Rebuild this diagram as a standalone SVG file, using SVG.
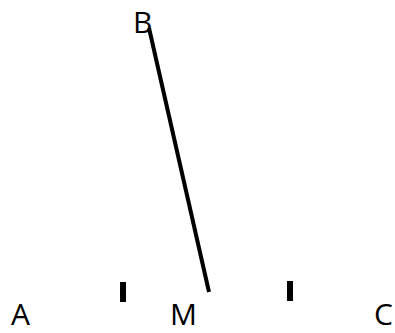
<svg xmlns="http://www.w3.org/2000/svg" width="395" height="333" viewBox="0 0 395 333">
<style>
.lbl{font-family:"Open Sans","Liberation Sans",sans-serif;font-size:30px;fill:#000}
.ln{stroke:#000;stroke-width:4;stroke-linecap:butt}
.tk{stroke:#000;stroke-width:6}
</style>
<rect width="395" height="333" fill="#fff"/>
<g id="B"><text class="lbl" x="133" y="33">B</text></g>
<g id="A"><text class="lbl" x="11" y="325">A</text></g>
<g id="M"><text class="lbl" x="170" y="325">M</text></g>
<g id="C"><text class="lbl" x="374" y="325">C</text></g>
<g id="connectors">
<line class="ln" x1="149" y1="28" x2="209" y2="292"/>
<line class="tk" x1="123" y1="282" x2="123" y2="302"/>
<line class="tk" x1="290" y1="281" x2="290" y2="301"/>
</g>
</svg>
